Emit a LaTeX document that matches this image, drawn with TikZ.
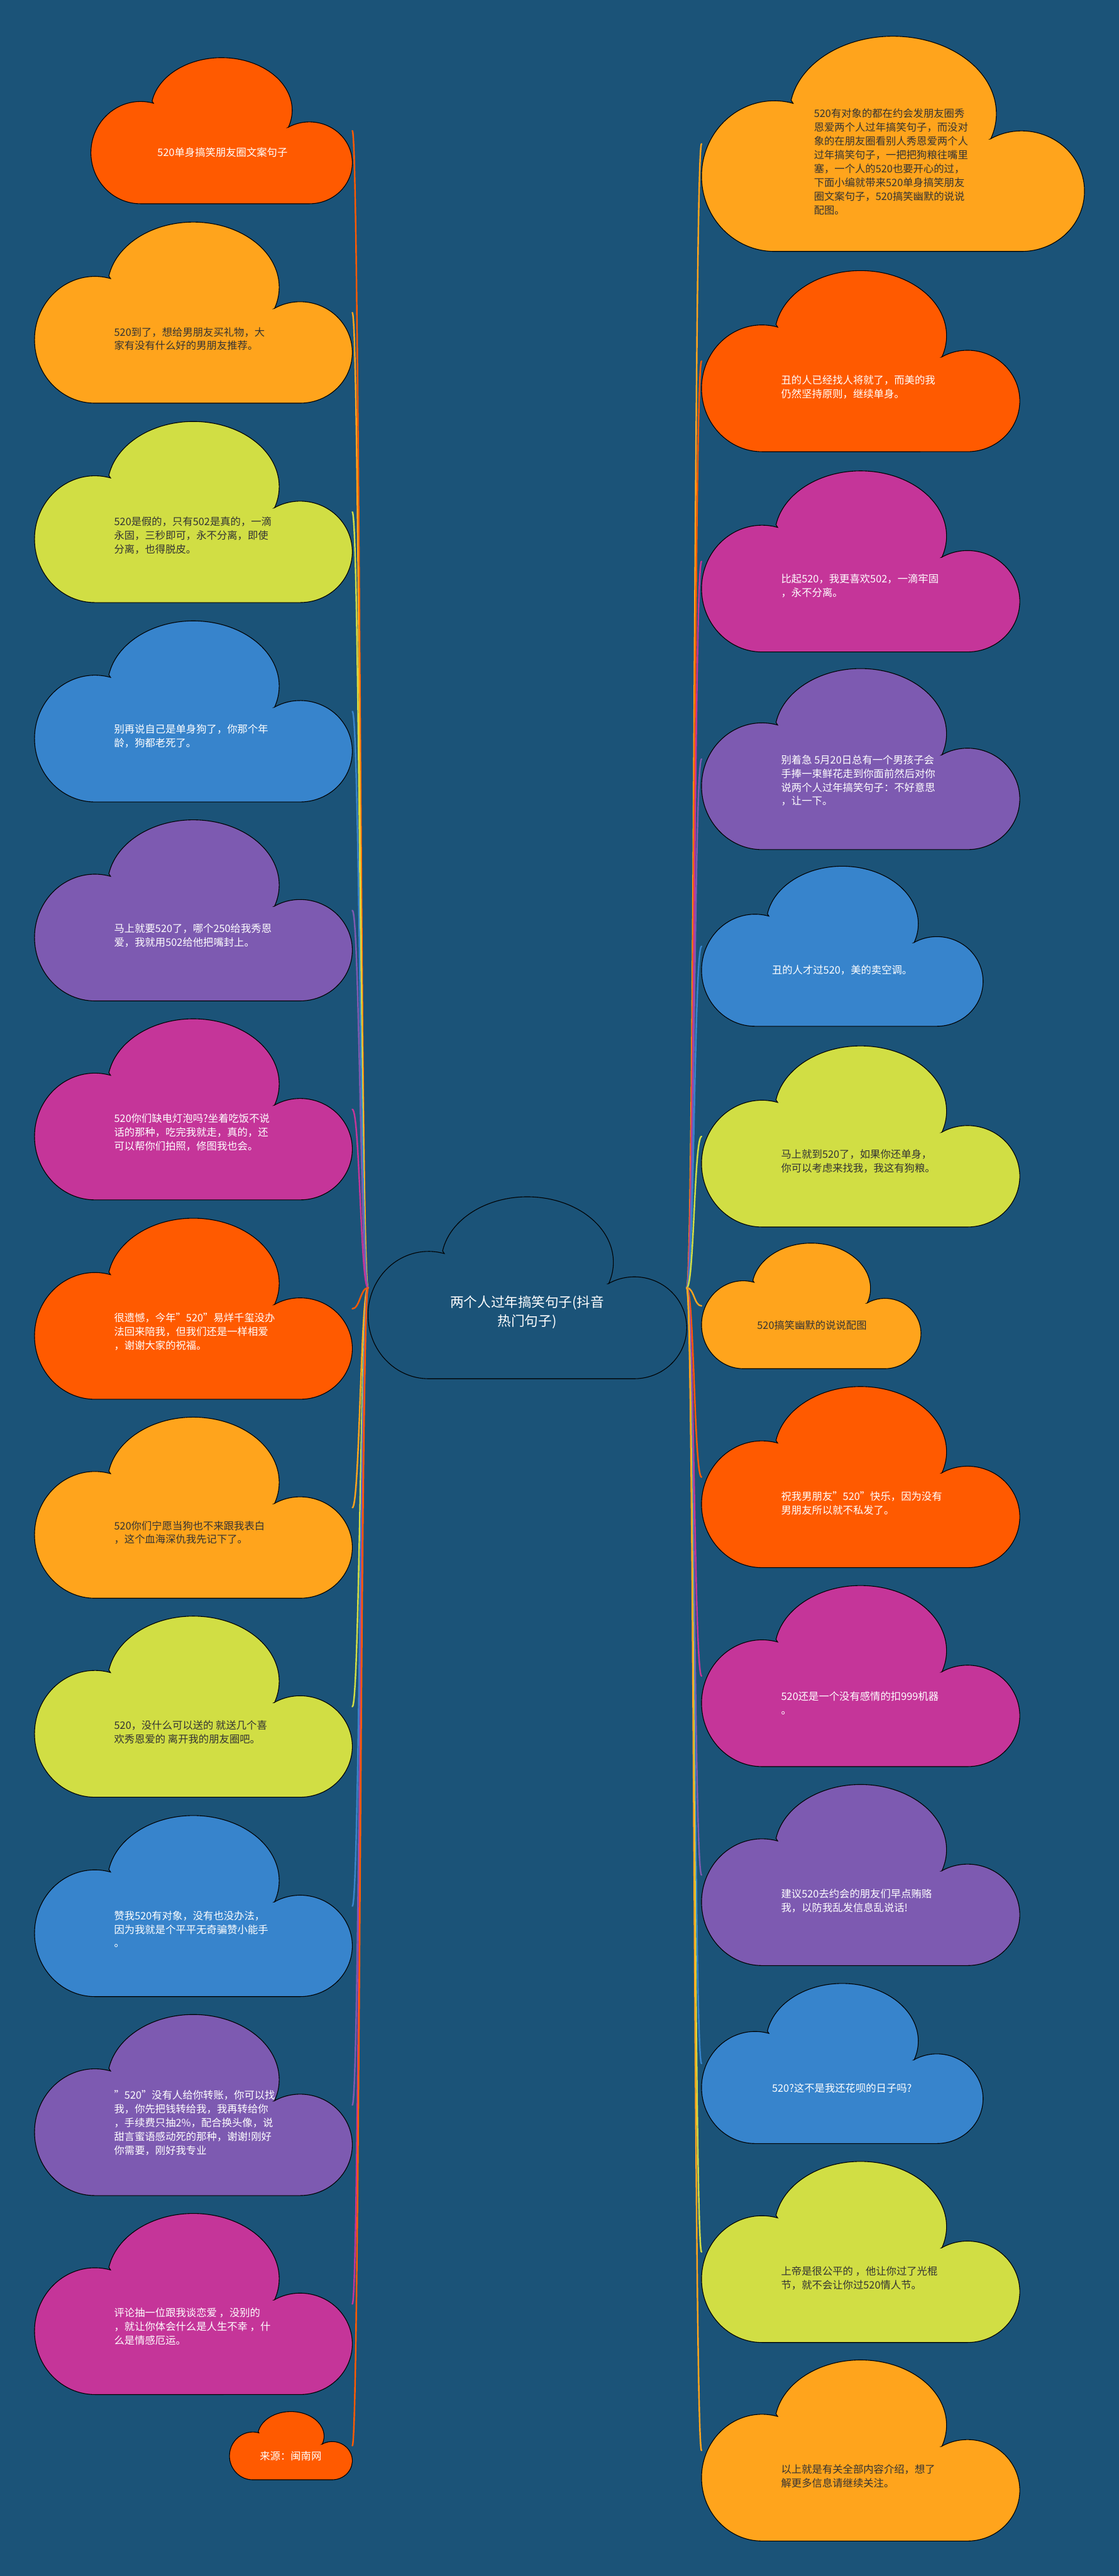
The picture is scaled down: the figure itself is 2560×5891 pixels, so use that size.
\documentclass[tikz,border=0pt]{standalone}
\usepackage{fontspec}
\setmainfont{Noto Sans CJK SC}
\usetikzlibrary{backgrounds}
\definecolor{bg}{HTML}{1B5378}
\definecolor{cRed}{HTML}{FF5A00}
\definecolor{cOra}{HTML}{FFA41C}
\definecolor{cLim}{HTML}{D1DE44}
\definecolor{cBlu}{HTML}{3784CC}
\definecolor{cPur}{HTML}{7D5AB1}
\definecolor{cMag}{HTML}{C53599}
\definecolor{tdark}{HTML}{333333}
\tikzset{
  cloudline/.style={draw=black,line width=1.6pt},
  cloudbox/.style={rectangle,draw=none,inner sep=0pt,outer sep=0pt},
  txt/.style={anchor=west,align=left,inner sep=0pt,font=\fontsize{23.5}{31.5}\selectfont},
  wt/.style={text=white},
  dk/.style={text=tdark},
  conn/.style={line width=3.5pt,line cap=round},
}
\newcommand\mycloud[6]{%
  \begin{scope}[shift={(#2,#3)},xscale=#4,yscale=#5]
    \filldraw[cloudline,fill=#6] (0.19,-1)
      arc[start angle=-90,end angle=-285,x radius=0.19,y radius=0.35]
      -- (0.234,-0.2975)
      arc[start angle=170,end angle=-19,x radius=0.27,y radius=0.36]
      -- (0.754,-0.4775)
      arc[start angle=120,end angle=-90,x radius=0.164,y radius=0.28]
      -- cycle;
  \end{scope}
  \node[cloudbox,minimum width=#4pt,minimum height=#5pt] (#1) at ({#2+#4/2},{#3-#5/2}) {};
}
\newcommand\lconn[2]{\draw[conn,#2] (C.west) .. controls +(-17,0) and +(17,0) .. (#1.east);}
\newcommand\rconn[2]{\draw[conn,#2] (C.east) .. controls +(17,0) and +(-17,0) .. (#1.west);}
\begin{document}
\begin{tikzpicture}[x=1pt,y=1pt]
\useasboundingbox (0,0) rectangle (2560,5891);
% center
\mycloud{C}{842}{3154}{729}{416}{bg}
\node[align=center,inner sep=0pt,text=white,font=\fontsize{31}{42}\selectfont] (tC) at (1206,2890) {两个人过年搞笑句子(抖音\\热门句子)};
% left clouds
\mycloud{L1}{208}{5759}{598}{334}{cRed}
\mycloud{L2}{79}{5383}{727}{414}{cOra}
\mycloud{L3}{79}{4927}{727}{414}{cLim}
\mycloud{L4}{79}{4471}{727}{414}{cBlu}
\mycloud{L5}{79}{4016}{727}{414}{cPur}
\mycloud{L6}{79}{3561}{727}{414}{cMag}
\mycloud{L7}{79}{3105}{727}{414}{cRed}
\mycloud{L8}{79}{2650}{727}{414}{cOra}
\mycloud{L9}{79}{2195}{727}{414}{cLim}
\mycloud{L10}{79}{1739}{727}{414}{cBlu}
\mycloud{L11}{79}{1284}{727}{414}{cPur}
\mycloud{L12}{79}{829}{727}{414}{cMag}
\mycloud{L13}{525}{376}{281}{156}{cRed}
% right clouds
\mycloud{R1}{1605}{5808}{876}{492}{cOra}
\mycloud{R2}{1605}{5272}{728}{414}{cRed}
\mycloud{R3}{1605}{4814}{728}{414}{cMag}
\mycloud{R4}{1605}{4362}{728}{414}{cPur}
\mycloud{R5}{1605}{3910}{644}{366}{cBlu}
\mycloud{R6}{1605}{3499}{728}{414}{cLim}
\mycloud{R7}{1605}{3048}{502}{287}{cOra}
\mycloud{R8}{1605}{2720}{728}{414}{cRed}
\mycloud{R9}{1605}{2265}{728}{414}{cMag}
\mycloud{R10}{1605}{1810}{728}{414}{cPur}
\mycloud{R11}{1605}{1355}{644}{366}{cBlu}
\mycloud{R12}{1605}{948}{728}{414}{cLim}
\mycloud{R13}{1605}{494}{728}{414}{cOra}
% left texts
\node[txt,wt] (tL1) at (360,5543) {520单身搞笑朋友圈文案句子};
\node[txt,dk] (tL2) at (261,5116) {520到了，想给男朋友买礼物，大\\家有没有什么好的男朋友推荐。};
\node[txt,dk] (tL3) at (261,4666) {520是假的，只有502是真的，一滴\\永固，三秒即可，永不分离，即使\\分离，也得脱皮。};
\node[txt,wt] (tL4) at (261,4207) {别再说自己是单身狗了，你那个年\\龄，狗都老死了。};
\node[txt,wt] (tL5) at (261,3751) {马上就要520了，哪个250给我秀恩\\爱，我就用502给他把嘴封上。};
\node[txt,wt] (tL6) at (261,3301) {520你们缺电灯泡吗?坐着吃饭不说\\话的那种，吃完我就走，真的，还\\可以帮你们拍照，修图我也会。};
\node[txt,wt] (tL7) at (261,2846) {很遗憾，今年"520"易烊千玺没办\\法回来陪我，但我们还是一样相爱\\，谢谢大家的祝福。};
\node[txt,dk] (tL8) at (261,2386) {520你们宁愿当狗也不来跟我表白\\，这个血海深仇我先记下了。};
\node[txt,dk] (tL9) at (261,1930) {520，没什么可以送的 就送几个喜\\欢秀恩爱的 离开我的朋友圈吧。};
\node[txt,wt] (tL10) at (261,1479) {赞我520有对象，没有也没办法，\\因为我就是个平平无奇骗赞小能手\\。};
\node[txt,wt] (tL11) at (261,1036) {"520"没有人给你转账，你可以找\\我，你先把钱转给我，我再转给你\\，手续费只抽2\%，配合换头像，说\\甜言蜜语感动死的那种，谢谢!刚好\\你需要，刚好我专业};
\node[txt,wt] (tL12) at (261,571) {评论抽一位跟我谈恋爱 ，没别的\\，就让你体会什么是人生不幸 ，什\\么是情感厄运。};
\node[txt,wt,anchor=center] (tL13) at (665,274) {来源：闽南网};
% right texts
\node[txt,dk] (tR1) at (1862,5521) {520有对象的都在约会发朋友圈秀\\恩爱两个人过年搞笑句子，而没对\\象的在朋友圈看别人秀恩爱两个人\\过年搞笑句子，一把把狗粮往嘴里\\塞，一个人的520也要开心的过，\\下面小编就带来520单身搞笑朋友\\圈文案句子，520搞笑幽默的说说\\配图。};
\node[txt,wt] (tR2) at (1787,5006) {丑的人已经找人将就了，而美的我\\仍然坚持原则，继续单身。};
\node[txt,wt] (tR3) at (1787,4551) {比起520，我更喜欢502，一滴牢固\\，永不分离。};
\node[txt,wt] (tR4) at (1787,4106) {别着急 5月20日总有一个男孩子会\\手捧一束鲜花走到你面前然后对你\\说两个人过年搞笑句子：不好意思\\，让一下。};
\node[txt,wt] (tR5) at (1766,3672) {丑的人才过520，美的卖空调。};
\node[txt,dk] (tR6) at (1787,3235) {马上就到520了，如果你还单身，\\你可以考虑来找我，我这有狗粮。};
\node[txt,dk] (tR7) at (1732,2860) {520搞笑幽默的说说配图};
\node[txt,wt] (tR8) at (1787,2453) {祝我男朋友"520"快乐，因为没有\\男朋友所以就不私发了。};
\node[txt,wt] (tR9) at (1787,1996) {520还是一个没有感情的扣999机器\\。};
\node[txt,wt] (tR10) at (1787,1544) {建议520去约会的朋友们早点贿赂\\我，以防我乱发信息乱说话!};
\node[txt,wt] (tR11) at (1766,1115) {520?这不是我还花呗的日子吗?};
\node[txt,dk] (tR12) at (1787,681) {上帝是很公平的 ，他让你过了光棍\\节，就不会让你过520情人节。};
\node[txt,dk] (tR13) at (1787,228) {以上就是有关全部内容介绍，想了\\解更多信息请继续关注。};
% background and connectors
\begin{pgfonlayer}{background}
\fill[bg] (0,0) rectangle (2560,5891);
\lconn{L1}{cRed}
\lconn{L2}{cOra}
\lconn{L3}{cLim}
\lconn{L4}{cBlu}
\lconn{L5}{cPur}
\lconn{L6}{cMag}
\lconn{L7}{cRed}
\lconn{L8}{cOra}
\lconn{L9}{cLim}
\lconn{L10}{cBlu}
\lconn{L11}{cPur}
\lconn{L12}{cMag}
\lconn{L13}{cRed}
\rconn{R1}{cOra}
\rconn{R2}{cRed}
\rconn{R3}{cMag}
\rconn{R4}{cPur}
\rconn{R5}{cBlu}
\rconn{R6}{cLim}
\rconn{R7}{cOra}
\rconn{R8}{cRed}
\rconn{R9}{cMag}
\rconn{R10}{cPur}
\rconn{R11}{cBlu}
\rconn{R12}{cLim}
\rconn{R13}{cOra}
\end{pgfonlayer}
\end{tikzpicture}
\end{document}
